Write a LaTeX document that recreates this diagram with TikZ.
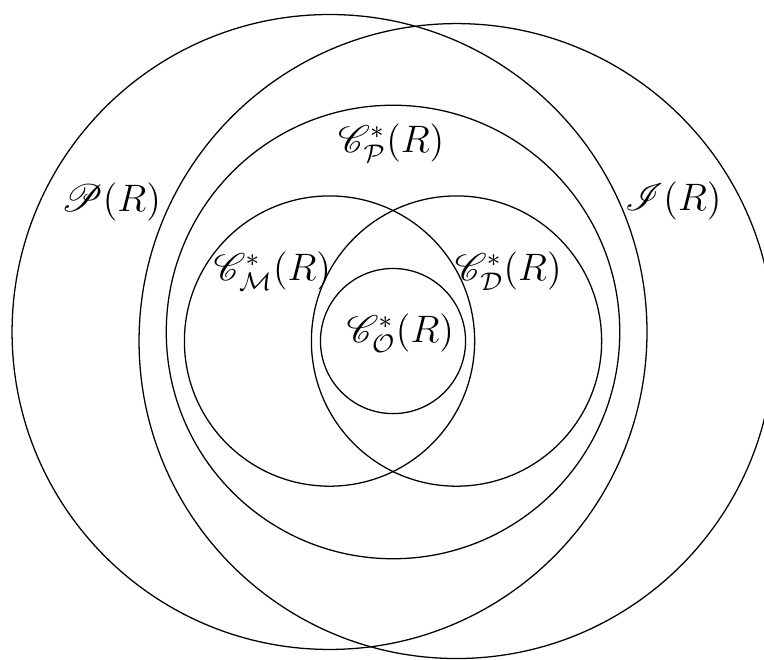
\documentclass[tikz,border=0pt]{standalone}
\usepackage{amsmath}
\usepackage{mathrsfs}
\begin{document}
\begin{tikzpicture}[
  ring/.style={draw=black, line width=0.4pt},
  lbl/.style={inner sep=0pt, font=\large}
]
\useasboundingbox (-4.333,-3.51) rectangle (4.09,3.76);
\draw[ring] (-0.7,0.1) circle (3.5);
\draw[ring] (0.7,0) circle (3.5);
\draw[ring] (0,0.1) circle (2.5);
\draw[ring] (-0.7,0) circle (1.6);
\draw[ring] (0.7,0) circle (1.6);
\draw[ring] (0,0) circle (0.8);
\node[lbl] (p) at (-3.11,1.53) {$\mathscr{P}(R)$};
\node[lbl] (i) at (3.09,1.55) {$\mathscr{I}(R)$};
\node[lbl] (cp) at (-0.02,2.18) {$\mathscr{C}^*_{\mathcal{P}}(R)$};
\node[lbl] (cm) at (-1.33,0.77) {$\mathscr{C}^*_{\mathcal{M}}(R)$};
\node[lbl] (cd) at (1.27,0.77) {$\mathscr{C}^*_{\mathcal{D}}(R)$};
\node[lbl] (co) at (0.08,0.09) {$\mathscr{C}^*_{\mathcal{O}}(R)$};
\end{tikzpicture}
\end{document}
